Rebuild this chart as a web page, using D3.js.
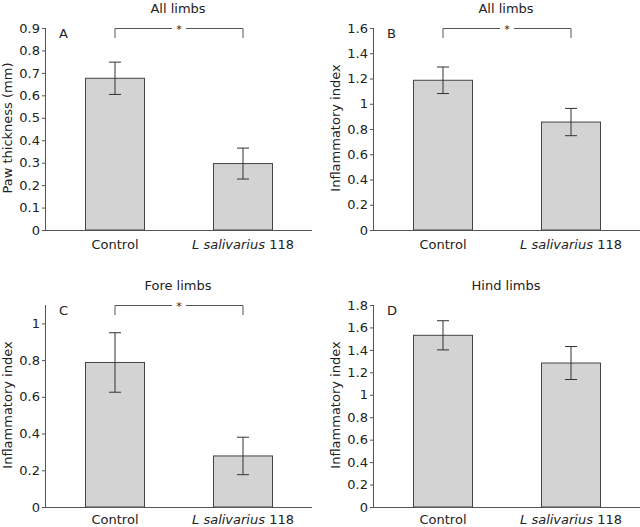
<!DOCTYPE html>
<html><head><meta charset="utf-8">
<script src="https://cdn.jsdelivr.net/npm/d3@7"></script>
<style>
html,body{margin:0;padding:0;background:#fff;}
text{font-family:"DejaVu Sans",sans-serif;fill:#222;}
</style></head>
<body><svg id="c" width="640" height="527"></svg>
<script>
const categories = ["Control", "L salivarius 118"];
const panelLetters = ["A", "B", "C", "D"];
const panelTitles = ["All limbs", "All limbs", "Fore limbs", "Hind limbs"];
const yLabels = ["Paw thickness (mm)", "Inflammatory index", "Inflammatory index", "Inflammatory index"];
const yMax = [0.9, 1.6, 1.1, 1.8];
const yTicksA = [0, 0.1, 0.2, 0.3, 0.4, 0.5, 0.6, 0.7, 0.8, 0.9];
const yTicksB = [0, 0.2, 0.4, 0.6, 0.8, 1, 1.2, 1.4, 1.6];
const yTicksC = [0, 0.2, 0.4, 0.6, 0.8, 1];
const yTicksD = [0, 0.2, 0.4, 0.6, 0.8, 1, 1.2, 1.4, 1.6, 1.8];
const meansA = [0.676, 0.296];
const errA = [0.072, 0.069];
const meansB = [1.186, 0.855];
const errB = [0.105, 0.108];
const meansC = [0.787, 0.278];
const errC = [0.162, 0.102];
const meansD = [1.530, 1.283];
const errD = [0.13, 0.147];
const significant = [true, true, true, false];

const panels = [
  {means: meansA, err: errA, ticks: yTicksA},
  {means: meansB, err: errB, ticks: yTicksB},
  {means: meansC, err: errC, ticks: yTicksC},
  {means: meansD, err: errD, ticks: yTicksD}
];

const svg = d3.select("#c");
const origins = [[46, 28], [374, 28], [46, 305], [374, 305]];
const plotW = 266, plotH = 202;

panels.forEach((p, i) => {
  const [ox, oy] = origins[i];
  const g = svg.append("g").attr("transform", `translate(${ox},${oy})`);
  const x = d3.scaleBand().domain(categories).range([5, 261]).paddingInner(0.539).paddingOuter(0.2695);
  const y = d3.scaleLinear().domain([0, yMax[i]]).range([plotH, 0]);

  // bars
  g.selectAll("rect.bar").data(categories).join("rect")
    .attr("class", "bar")
    .attr("x", d => x(d)).attr("width", x.bandwidth())
    .attr("y", (d, k) => y(p.means[k]))
    .attr("height", (d, k) => plotH - y(p.means[k]))
    .attr("fill", "#d3d3d3").attr("stroke", "#444").attr("stroke-width", 1);

  // error bars
  categories.forEach((c, k) => {
    const cx = x(c) + x.bandwidth() / 2;
    const hi = y(p.means[k] + p.err[k]), lo = y(p.means[k] - p.err[k]);
    g.append("line").attr("x1", cx).attr("x2", cx).attr("y1", hi).attr("y2", lo)
      .attr("stroke", "#333").attr("stroke-width", 1);
    [hi, lo].forEach(v => g.append("line").attr("x1", cx - 6).attr("x2", cx + 6)
      .attr("y1", v).attr("y2", v).attr("stroke", "#333").attr("stroke-width", 1));
  });

  // y axis
  const ya = g.append("g").call(d3.axisLeft(y).tickValues(p.ticks).tickSize(4).tickPadding(2)
      .tickFormat(d => String(+d.toFixed(1))));
  ya.select(".domain").attr("stroke", "#555").attr("d", `M-0.5,${plotH}V0`);
  ya.selectAll(".tick line").attr("stroke", "#555");
  ya.selectAll("text").attr("font-size", 13).attr("fill", "#222").attr("font-family", "DejaVu Sans");

  // x axis line
  g.append("line").attr("x1", 0).attr("x2", plotW).attr("y1", plotH + 0.5).attr("y2", plotH + 0.5)
    .attr("stroke", "#555");

  // category labels
  categories.forEach((c, k) => {
    const cx = x(c) + x.bandwidth() / 2;
    const t = g.append("text").attr("x", cx).attr("y", plotH + (i < 2 ? 19 : 17)).attr("text-anchor", "middle")
      .attr("font-size", 13);
    if (c.startsWith("L salivarius")) {
      t.append("tspan").attr("font-style", "italic").text("L salivarius");
      t.append("tspan").text(" 118");
    } else t.text(c);
  });

  // title
  g.append("text").attr("x", plotW / 2 - 1).attr("y", -15).attr("text-anchor", "middle")
    .attr("font-size", 13).text(panelTitles[i]);

  // panel letter
  g.append("text").attr("x", 13).attr("y", 10).attr("font-size", 13).text(panelLetters[i]);

  // y label
  g.append("text").attr("transform", `translate(${-34},${plotH / 2 - 1}) rotate(-90)`)
    .attr("text-anchor", "middle").attr("font-size", 13).text(yLabels[i]);

  // significance bracket
  if (significant[i]) {
    const x1 = x(categories[0]) + x.bandwidth() / 2;
    const x2 = x(categories[1]) + x.bandwidth() / 2;
    const mid = (x1 + x2) / 2;
    const bg = g.append("g").attr("stroke", "#555").attr("fill", "none");
    bg.append("path").attr("d", `M${x1},10V0.5H${mid - 7}`);
    bg.append("path").attr("d", `M${mid + 7},0.5H${x2}V10`);
    g.append("text").attr("x", mid).attr("y", 5).attr("text-anchor", "middle")
      .attr("font-size", 11).text("*");
  }
});
</script></body></html>
